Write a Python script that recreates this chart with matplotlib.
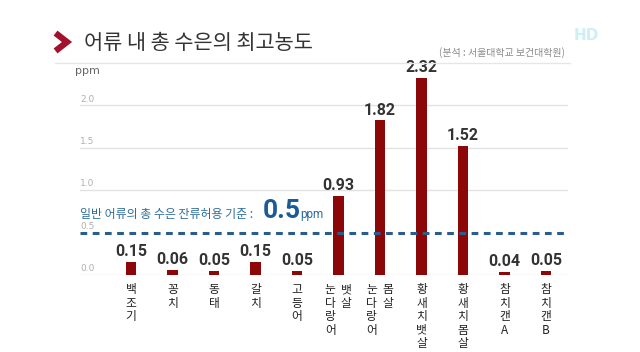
import numpy as np
import matplotlib
matplotlib.use("Agg")
import matplotlib.pyplot as plt
from matplotlib.lines import Line2D

plt.rcParams['font.family'] = ['Noto Sans CJK KR', 'DejaVu Sans']

# 어류별 총 수은 최고농도 (ppm)
labels = [["백조기"], ["꽁치"], ["동태"], ["갈치"], ["고등어"],
          ["눈다랑어", "뱃살"], ["눈다랑어", "몸살"],
          ["황새치뱃살"], ["황새치몸살"], ["참치캔A"], ["참치캔B"]]
values = [0.15, 0.06, 0.05, 0.15, 0.05, 0.93, 1.82, 2.32, 1.52, 0.04, 0.05]
yticks = [0.0, 0.5, 1.0, 1.5, 2.0]
limit = 0.5

W, H = 640, 352
fig = plt.figure(figsize=(6.4, 3.52), dpi=100)
ax = fig.add_axes([80 / W, (H - 275) / H, 488 / W, 208 / H])

x = np.arange(len(values))
ax.bar(x, values, width=0.25, color='#8c0808', zorder=3)
ax.set_xlim(-1.23, 10.53)
ax.set_ylim(0, 2.45)
for s in ax.spines.values():
    s.set_visible(False)
ax.set_xticks([])
ax.set_yticks([])

# gridlines + tick labels sitting on them
for t in yticks:
    if t != limit:
        ax.axhline(t, color='#e2e2e2', lw=1, zorder=1)
    ax.text(-1.23, t + 0.02, f'{t:.1f}', color='#b0b0b0', fontsize=6.5,
            family='DejaVu Sans', ha='left', va='bottom')

# 기준선
ax.axhline(limit, color='#2a5d8c', lw=2.2, ls=(0, (2.2, 1.8)), zorder=4)
ax.text(-1.23, limit + 0.17, '일반 어류의 총 수은 잔류허용 기준 : ', color='#2f6c9c',
        fontsize=8.6, ha='left', va='baseline')
ax.text(3.18, limit + 0.17, '0.5', color='#1b5a98', fontsize=19, family='Roboto',
        weight='bold', ha='left', va='baseline')
ax.text(4.07, limit + 0.17, 'ppm', color='#2f6c9c', fontsize=8.5, family='Roboto',
        ha='left', va='baseline')

# value labels
for i, v in enumerate(values):
    ax.annotate(f'{v:.2f}', xy=(i, v), xytext=(0, 2), textcoords='offset points',
                ha='center', va='bottom', fontsize=11.5, family='Roboto',
                weight='bold', color='#333333')

# vertical category labels
for i, cols in enumerate(labels):
    offs = [0] if len(cols) == 1 else [-6, 5.5]
    for dx, word in zip(offs, cols):
        ax.annotate('\n'.join(word), xy=(i, 0), xytext=(dx, -6),
                    textcoords='offset points', ha='center', va='top',
                    fontsize=8.5, color='#222222', linespacing=1.05,
                    annotation_clip=False)

# header
fig.add_artist(Line2D([58 / W, 67 / W, 58 / W], [1 - 35 / H, 1 - 42 / H, 1 - 49 / H],
                      color='#a3122c', lw=4.5, solid_joinstyle='miter'))
fig.text(84 / W, 1 - 43 / H, '어류 내 총 수은의 최고농도', fontsize=15,
         color='#333333', ha='left', va='center')
fig.text(565 / W, 1 - 53 / H, '(분석 : 서울대학교 보건대학원)', fontsize=7.2,
         color='#8a8a8a', ha='right', va='center')
fig.text(586 / W, 1 - 35 / H, 'HD', fontsize=11, color='#cdeff6', weight='bold',
         family='DejaVu Sans', ha='center', va='center')
fig.add_artist(Line2D([55 / W, 570 / W], [1 - 63 / H, 1 - 63 / H], color='#e6e6e6', lw=1))
fig.text(75 / W, 1 - 71 / H, 'ppm', fontsize=8, color='#666666', family='DejaVu Sans',
         ha='left', va='center')

fig.savefig('out.png', dpi=100)
